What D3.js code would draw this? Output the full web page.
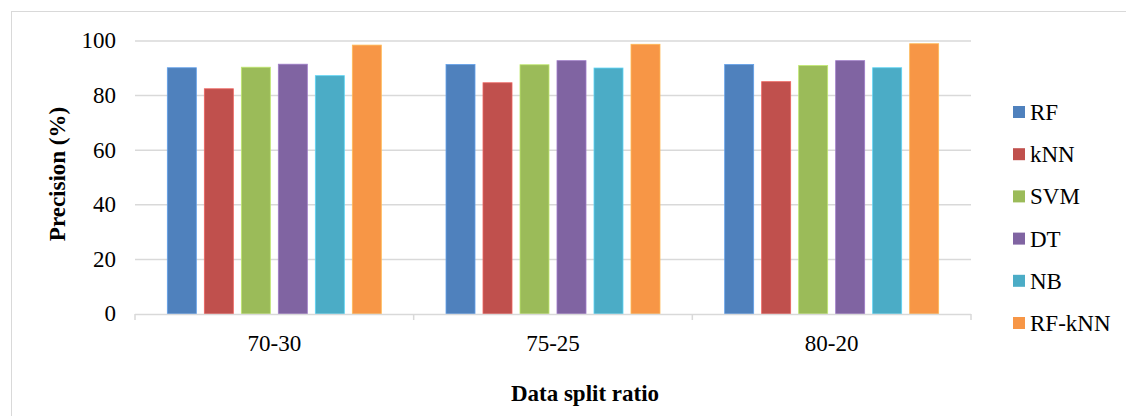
<!DOCTYPE html>
<html>
<head>
<meta charset="utf-8">
<script src="https://cdn.jsdelivr.net/npm/d3@7"></script>
<style>
  body { margin: 0; background: #fff; }
  svg { display: block; font-family: "Liberation Serif", "Times New Roman", serif; }
</style>
</head>
<body>
<svg id="chart"></svg>
<script>
const w = 1126;
const h = 416;

const categories = ['70-30', '75-25', '80-20'];
const models = ['RF', 'kNN', 'SVM', 'DT', 'NB', 'RF-kNN'];
const colors = ['#4F81BD', '#C0504D', '#9BBB59', '#8064A2', '#4BACC6', '#F79646'];
// precision per model, one value per split ratio
const rf = [90.2, 91.4, 91.4];
const knn = [82.5, 84.7, 85.1];
const svm = [90.4, 91.3, 91.0];
const dt = [91.5, 92.8, 92.8];
const nb = [87.3, 90.1, 90.2];
const rfknn = [98.5, 98.8, 99.0];
const yTicks = [0, 20, 40, 60, 80, 100];

const seriesValues = [rf, knn, svm, dt, nb, rfknn];
const rows = [];
categories.forEach((c, i) => {
    models.forEach((m, j) => {
        rows.push({ cat: c, model: m, value: seriesValues[j][i], color: colors[j] });
    });
});

const fontSize = 23;
const serif = '"Liberation Serif", "Times New Roman", serif';

const svg = d3.select('#chart')
    .attr('width', w)
    .attr('height', h);

// outer chart frame
svg.append('rect')
    .attr('x', 11.5)
    .attr('y', 11.5)
    .attr('width', w + 20)
    .attr('height', h + 20)
    .attr('fill', 'none')
    .attr('stroke', '#d9d9d9')
    .attr('stroke-width', 1);

const plotLeft = 135, plotRight = 971, plotTop = 41, plotBottom = 314;

const xScale = d3.scaleBand()
    .domain(categories)
    .range([plotLeft, plotRight]);

const groupWidth = 214;
const xInner = d3.scaleBand()
    .domain(models)
    .range([(xScale.bandwidth() - groupWidth) / 2, (xScale.bandwidth() + groupWidth) / 2])
    .paddingInner(0.216);

const yScale = d3.scaleLinear()
    .domain([0, 100])
    .range([plotBottom, plotTop]);

// gridlines
svg.append('g')
    .selectAll('line')
    .data(yTicks.filter(d => d > 0))
    .join('line')
    .attr('x1', plotLeft)
    .attr('x2', plotRight)
    .attr('y1', d => yScale(d))
    .attr('y2', d => yScale(d))
    .attr('stroke', '#d9d9d9')
    .attr('stroke-width', 1.5);

// y tick labels
const yAxis = d3.axisLeft(yScale).tickValues(yTicks).tickSize(0).tickPadding(0);
const yAxisGroup = svg.append('g')
    .attr('transform', `translate(116,0)`)
    .call(yAxis);
yAxisGroup.select('.domain').remove();
yAxisGroup.selectAll('text')
    .attr('dy', '0.3em')
    .style('font-family', serif)
    .style('font-size', fontSize + 'px')
    .attr('fill', '#000');

// bars
svg.append('g')
    .selectAll('rect')
    .data(rows)
    .join('rect')
    .attr('x', d => xScale(d.cat) + xInner(d.model))
    .attr('y', d => yScale(d.value))
    .attr('width', xInner.bandwidth())
    .attr('height', d => yScale(0) - yScale(d.value))
    .attr('fill', d => d.color)
    .attr('stroke', d => d3.color(d.color).brighter(0.6))
    .attr('stroke-width', 0.8);

// x axis
const xAxis = d3.axisBottom(xScale).tickSize(0).tickPadding(0);
const xAxisGroup = svg.append('g')
    .attr('transform', `translate(0,${plotBottom})`)
    .call(xAxis);
xAxisGroup.select('.domain').remove();
xAxisGroup.selectAll('text')
    .attr('y', 37)
    .attr('dy', 0)
    .style('font-family', serif)
    .style('font-size', fontSize + 'px')
    .attr('fill', '#000');

svg.append('line')
    .attr('x1', plotLeft).attr('x2', plotRight)
    .attr('y1', plotBottom + 0.5).attr('y2', plotBottom + 0.5)
    .attr('stroke', '#d9d9d9')
    .attr('stroke-width', 1.5);

const boundaries = categories.map(c => xScale(c)).concat([plotRight]);
svg.append('g')
    .selectAll('line')
    .data(boundaries)
    .join('line')
    .attr('x1', d => d).attr('x2', d => d)
    .attr('y1', plotBottom).attr('y2', plotBottom + 6)
    .attr('stroke', '#d9d9d9')
    .attr('stroke-width', 1.5);

// axis titles
svg.append('text')
    .attr('transform', `translate(65,174) rotate(-90)`)
    .attr('text-anchor', 'middle')
    .attr('font-size', fontSize)
    .attr('font-weight', 'bold')
    .text('Precision (%)');

svg.append('text')
    .attr('x', 585)
    .attr('y', 401)
    .attr('text-anchor', 'middle')
    .attr('font-size', fontSize)
    .attr('font-weight', 'bold')
    .text('Data split ratio');

// legend
const legend = svg.append('g')
    .attr('transform', 'translate(1013,112)');
const items = legend.selectAll('g')
    .data(models)
    .join('g')
    .attr('transform', (d, i) => `translate(0,${i * 42.2})`);
items.append('rect')
    .attr('x', 0)
    .attr('y', -6)
    .attr('width', 12)
    .attr('height', 12)
    .attr('fill', (d, i) => colors[i]);
items.append('text')
    .attr('x', 17)
    .attr('y', 8)
    .attr('font-size', fontSize)
    .text(d => d);
</script>
</body>
</html>
